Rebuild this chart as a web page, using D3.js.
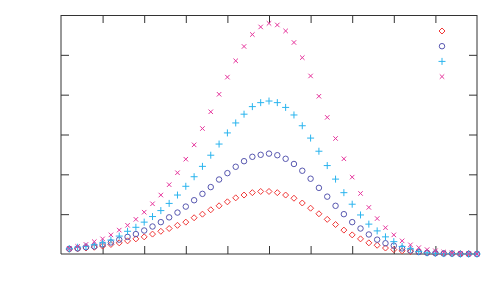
<!DOCTYPE html>
<html>
<head>
<meta charset="utf-8">
<script src="https://cdn.jsdelivr.net/npm/d3@7"></script>
<style>
  html, body { margin: 0; padding: 0; background: #fff; }
  svg { display: block; }
</style>
</head>
<body>
<svg id="chart" width="500" height="300"></svg>
<script>
// ---- data ----
const xValues = [1,2,3,4,5,6,7,8,9,10,11,12,13,14,15,16,17,18,19,20,21,22,23,24,25,
                 26,27,28,29,30,31,32,33,34,35,36,37,38,39,40,41,42,43,44,45,46,47,48,49,50];
const seriesRed = [0.12,0.13,0.15,0.17,0.20,0.24,0.28,0.33,0.38,0.43,0.50,0.57,0.64,0.72,0.80,0.91,1.00,1.11,1.21,1.31,
                   1.41,1.48,1.54,1.57,1.57,1.54,1.48,1.40,1.28,1.15,1.01,0.87,0.74,0.60,0.48,0.38,0.28,0.22,0.15,0.11,
                   0.08,0.06,0.05,0.03,0.02,0.02,0.01,0.01,0.01,0.00];
const seriesBlue = [0.13,0.14,0.17,0.19,0.24,0.29,0.36,0.43,0.50,0.59,0.69,0.80,0.92,1.04,1.19,1.35,1.51,1.68,1.87,2.03,
                    2.19,2.33,2.44,2.49,2.52,2.48,2.39,2.26,2.09,1.89,1.66,1.44,1.21,1.00,0.80,0.64,0.49,0.36,0.27,0.21,
                    0.14,0.09,0.05,0.03,0.02,0.01,0.01,0.00,0.00,0.00];
const seriesCyan = [0.13,0.17,0.19,0.23,0.28,0.35,0.45,0.57,0.67,0.80,0.94,1.09,1.27,1.48,1.70,1.94,2.20,2.48,2.76,3.04,
                    3.29,3.51,3.70,3.80,3.84,3.80,3.68,3.49,3.22,2.91,2.58,2.22,1.88,1.54,1.25,0.98,0.75,0.58,0.43,0.31,
                    0.19,0.13,0.06,0.03,0.02,0.01,0.01,0.00,0.00,0.00];
const seriesMagenta = [0.14,0.19,0.24,0.31,0.38,0.48,0.60,0.72,0.87,1.05,1.26,1.48,1.74,2.04,2.38,2.74,3.15,3.57,4.01,4.44,
                       4.85,5.21,5.51,5.70,5.79,5.75,5.60,5.31,4.93,4.47,3.96,3.43,2.90,2.39,1.93,1.52,1.17,0.89,0.66,0.48,
                       0.33,0.23,0.16,0.11,0.08,0.05,0.03,0.02,0.01,0.00];
const xTickValues = [0,5,10,15,20,25,30,35,40,45,50];
const yTickValues = [0,1,2,3,4,5,6];
const seriesNames = ["red", "blue", "cyan", "magenta"];

// ---- layout ----
const svg = d3.select("#chart");
const plotLeft = 61, plotRight = 477, plotTop = 15, plotBottom = 254;
const x = d3.scaleLinear().domain([0, 50]).range([plotLeft, plotRight]);
const y = d3.scaleLinear().domain([0, 6]).range([plotBottom, plotTop]);

// marker shapes (custom d3 symbol types)
const diamond = { draw(ctx, size) { const r = Math.sqrt(size) / 2; ctx.moveTo(0, -r); ctx.lineTo(r, 0); ctx.lineTo(0, r); ctx.lineTo(-r, 0); ctx.closePath(); } };
const circle = { draw(ctx, size) { const r = Math.sqrt(size) / 2; ctx.moveTo(r, 0); ctx.arc(0, 0, r, 0, 2 * Math.PI); } };
const plus = { draw(ctx, size) { const r = Math.sqrt(size) / 2; ctx.moveTo(-r, 0); ctx.lineTo(r, 0); ctx.moveTo(0, -r); ctx.lineTo(0, r); } };
const times = { draw(ctx, size) { const r = Math.sqrt(size) / 2; ctx.moveTo(-r, -r); ctx.lineTo(r, r); ctx.moveTo(-r, r); ctx.lineTo(r, -r); } };

const series = [
  { name: seriesNames[0], values: seriesRed,     color: "#f03838", type: diamond, size: 36 },
  { name: seriesNames[1], values: seriesBlue,    color: "#5858b0", type: circle,  size: 30 },
  { name: seriesNames[2], values: seriesCyan,    color: "#2ab4ee", type: plus,    size: 49 },
  { name: seriesNames[3], values: seriesMagenta, color: "#e6359c", type: times,   size: 20 }
];

// ---- frame ----
const frame = svg.append("g").attr("stroke", "#333").attr("stroke-width", 1).attr("fill", "none");
frame.append("line").attr("x1", plotLeft).attr("x2", plotRight).attr("y1", plotTop + 0.5).attr("y2", plotTop + 0.5);
frame.append("line").attr("x1", plotLeft).attr("x2", plotRight).attr("y1", plotBottom).attr("y2", plotBottom);
frame.append("line").attr("x1", plotLeft).attr("x2", plotLeft).attr("y1", plotTop).attr("y2", plotBottom);
frame.append("line").attr("x1", plotRight).attr("x2", plotRight).attr("y1", plotTop).attr("y2", plotBottom);

// ---- axes (inward ticks, no labels) ----
const tickLen = 8;
const axisStyle = g => {
  g.select(".domain").remove();
  g.selectAll(".tick line").attr("stroke", "#333");
  g.selectAll(".tick text").remove();
};
svg.append("g").attr("transform", `translate(0,${plotBottom})`)
  .call(d3.axisBottom(x).tickValues(xTickValues.slice(1, -1)).tickSize(-tickLen)).call(axisStyle);
svg.append("g").attr("transform", `translate(0,${plotTop})`)
  .call(d3.axisTop(x).tickValues(xTickValues.slice(1, -1)).tickSize(-tickLen)).call(axisStyle);
svg.append("g").attr("transform", `translate(${plotLeft},0)`)
  .call(d3.axisLeft(y).tickValues(yTickValues.slice(1, -1)).tickSize(-tickLen)).call(axisStyle);
svg.append("g").attr("transform", `translate(${plotRight},0)`)
  .call(d3.axisRight(y).tickValues(yTickValues.slice(1, -1)).tickSize(-tickLen)).call(axisStyle);

// ---- points ----
series.forEach(s => {
  const sym = d3.symbol().type(s.type).size(s.size);
  svg.append("g").attr("class", "series-" + s.name)
    .selectAll("path").data(s.values).join("path")
    .attr("d", sym)
    .attr("transform", (d, i) => `translate(${x(xValues[i])},${y(d)})`)
    .attr("fill", "none").attr("stroke", s.color).attr("stroke-width", 1);
});

// ---- legend (markers only) ----
const legend = svg.append("g").attr("transform", "translate(442,31)");
series.forEach((s, i) => {
  legend.append("path")
    .attr("d", d3.symbol().type(s.type).size(s.size)())
    .attr("transform", `translate(0,${i * 15.2})`)
    .attr("fill", "none").attr("stroke", s.color).attr("stroke-width", 1);
});
</script>
</body>
</html>
